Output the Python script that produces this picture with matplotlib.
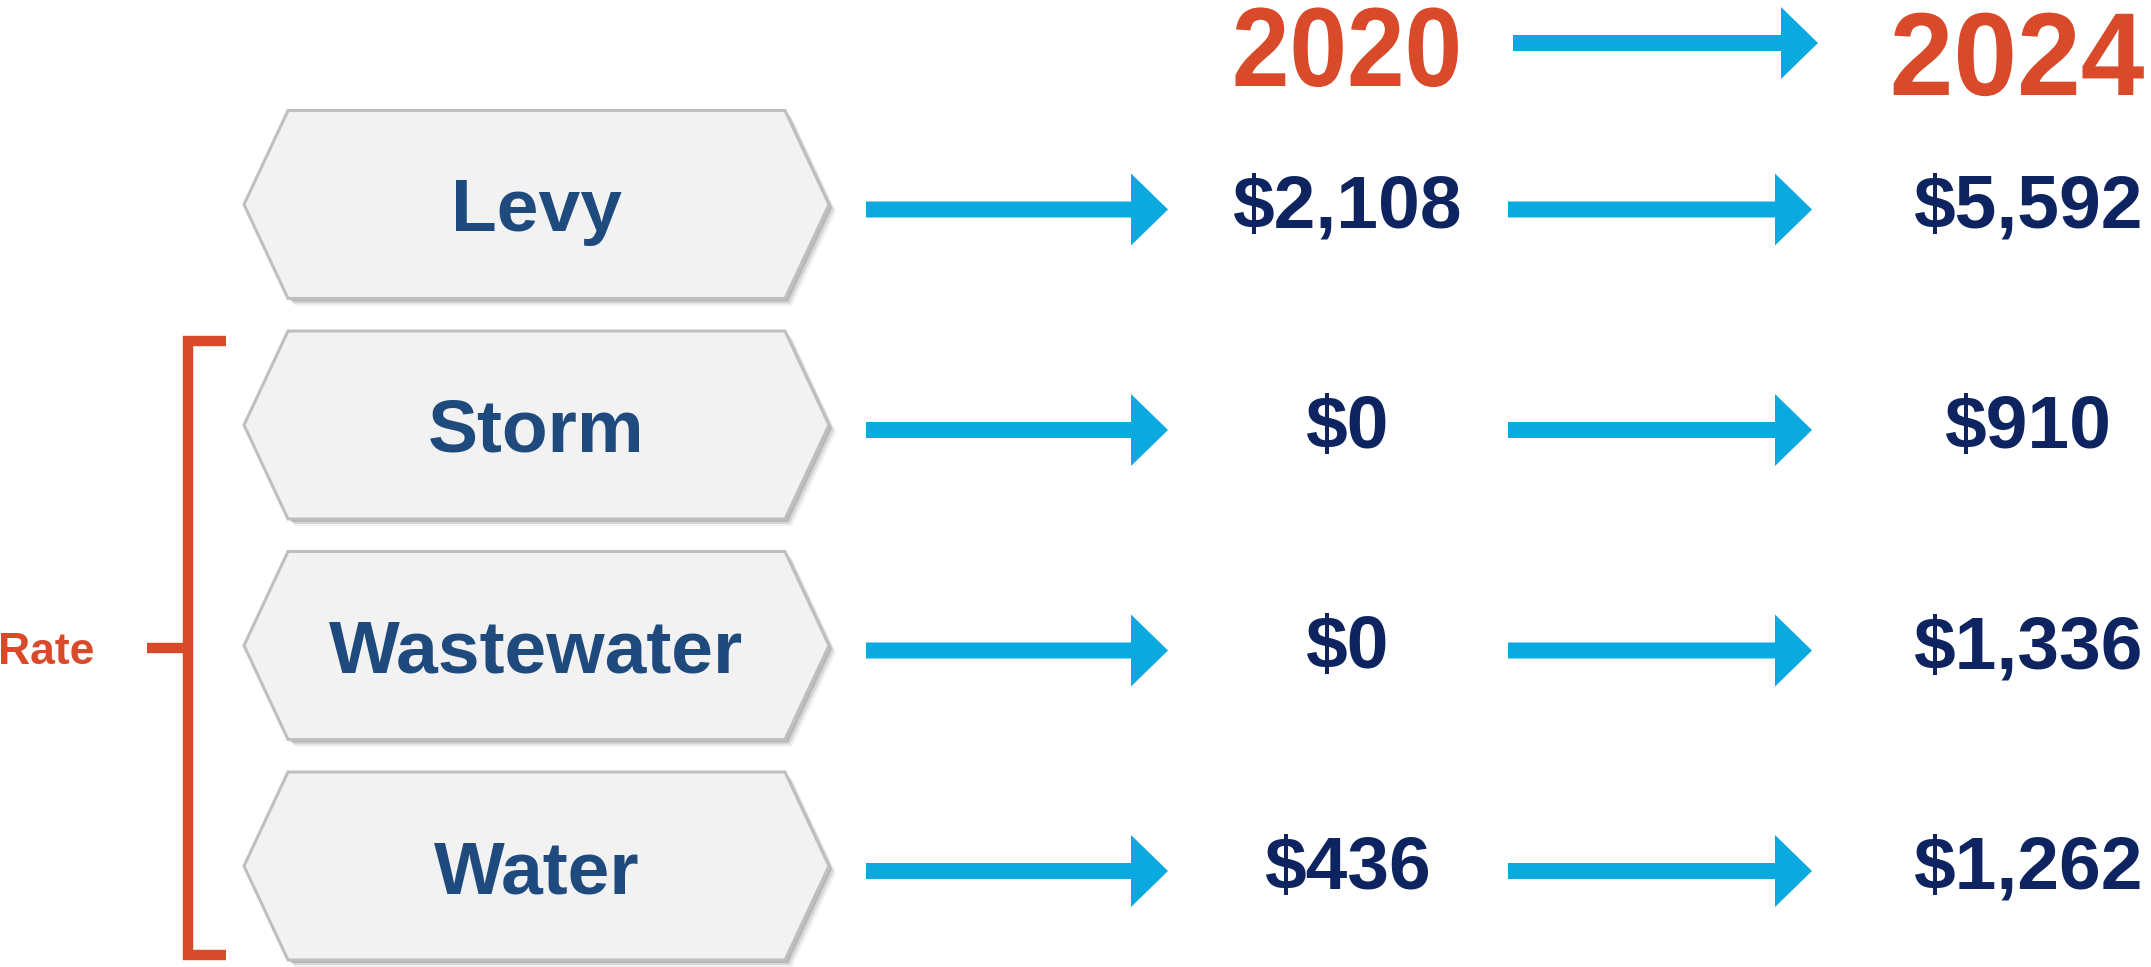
import numpy as np
import matplotlib
matplotlib.use("Agg")
import matplotlib.pyplot as plt
from matplotlib.patches import Polygon
from matplotlib.patheffects import AbstractPathEffect
from matplotlib.transforms import Affine2D

# data
categories = ["Levy", "Storm", "Wastewater", "Water"]
values_2020 = [2108, 0, 0, 436]
values_2024 = [5592, 910, 1336, 1262]
years = ["2020", "2024"]
group_label = "Rate"
group_rows = [1, 2, 3]

# colours
orange = "#D84A2A"
blue_arrow = "#0AA9E0"
label_blue = "#1F4A7E"
value_navy = "#0D2461"

W, H = 2151, 967
fig = plt.figure(figsize=(W / 100, H / 100), dpi=100)
ax = fig.add_axes([0, 0, 1, 1])
ax.set_xlim(0, W)
ax.set_ylim(H, 0)
ax.axis("off")

main_font = "Liberation Sans"


class Squeeze(AbstractPathEffect):
    # narrow the glyphs horizontally around the text centre (no narrow font installed)
    def __init__(self, sx, cx):
        super().__init__()
        self.sx, self.cx = sx, cx

    def draw_path(self, renderer, gc, tpath, affine, rgbFace=None):
        t = affine + Affine2D().translate(-self.cx, 0).scale(self.sx, 1).translate(self.cx, 0)
        renderer.draw_path(gc, tpath, t, rgbFace)


row_y0, row_step = 204.5, 220.5
hex_x0, hex_x1, hex_half, hex_in = 244, 829, 94, 44


def hexagon(y, dx=0, dy=0):
    pts = [(hex_x0, y), (hex_x0 + hex_in, y - hex_half), (hex_x1 - hex_in, y - hex_half),
           (hex_x1, y), (hex_x1 - hex_in, y + hex_half), (hex_x0 + hex_in, y + hex_half)]
    return [(px + dx, py + dy) for px, py in pts]


def arrow(x0, x1, y, shaft=16, head_half=36, head_len=37):
    xb = x1 - head_len
    pts = [(x0, y - shaft / 2), (xb, y - shaft / 2), (xb, y - head_half), (x1, y),
           (xb, y + head_half), (xb, y + shaft / 2), (x0, y + shaft / 2)]
    ax.add_patch(Polygon(pts, closed=True, color=blue_arrow, lw=0))


col1_x, col2_x = 1347, 2028

for i, name in enumerate(categories):
    y = row_y0 + i * row_step
    # soft shadow
    for off, a in [(7, 0.06), (5, 0.10), (3, 0.14)]:
        ax.add_patch(Polygon(hexagon(y, off, off), closed=True, facecolor="#000000",
                             edgecolor="none", alpha=a))
    ax.add_patch(Polygon(hexagon(y), closed=True, facecolor="#F2F2F2",
                         edgecolor="#BFBFBF", lw=2.2))
    ax.text((hex_x0 + hex_x1) / 2, y + 27, name, ha="center", va="baseline",
            fontsize=54, fontweight="bold", color=label_blue, family=main_font)

    arrow(866, 1168, y + 5)
    arrow(1508, 1812, y + 5)

    ax.text(col1_x, y + 23, f"${values_2020[i]:,}", ha="center", va="baseline",
            fontsize=54, fontweight="bold", color=value_navy, family=main_font)
    ax.text(col2_x, y + 23, f"${values_2024[i]:,}", ha="center", va="baseline",
            fontsize=54, fontweight="bold", color=value_navy, family=main_font)

# year header
yr_x = [1347, 2017]
yr_base = [86, 95]
yr_size = [81, 85]
yr_sx = [0.92, 0.97]
for k in range(2):
    cx = ax.transData.transform((yr_x[k], 0))[0]
    ax.text(yr_x[k], yr_base[k], years[k], ha="center", va="baseline",
            fontsize=yr_size[k], fontweight="bold", color=orange, family=main_font,
            path_effects=[Squeeze(yr_sx[k], cx)])
arrow(1513, 1818, 43)

# bracket for grouped rows
top = row_y0 + group_rows[0] * row_step - 84
bot = row_y0 + group_rows[-1] * row_step + 89
mid = (top + bot) / 2
bx = 188
ax.plot([226, bx, bx, 226], [top, top, bot, bot], color=orange, lw=7.5,
        solid_joinstyle="miter", solid_capstyle="butt")
ax.plot([147, bx], [mid, mid], color=orange, lw=7.5, solid_capstyle="butt")
ax.text(-2, mid + 16, group_label, ha="left", va="baseline", fontsize=32,
        fontweight="bold", color=orange, family=main_font)

fig.savefig("out.png", dpi=100, facecolor="white")
